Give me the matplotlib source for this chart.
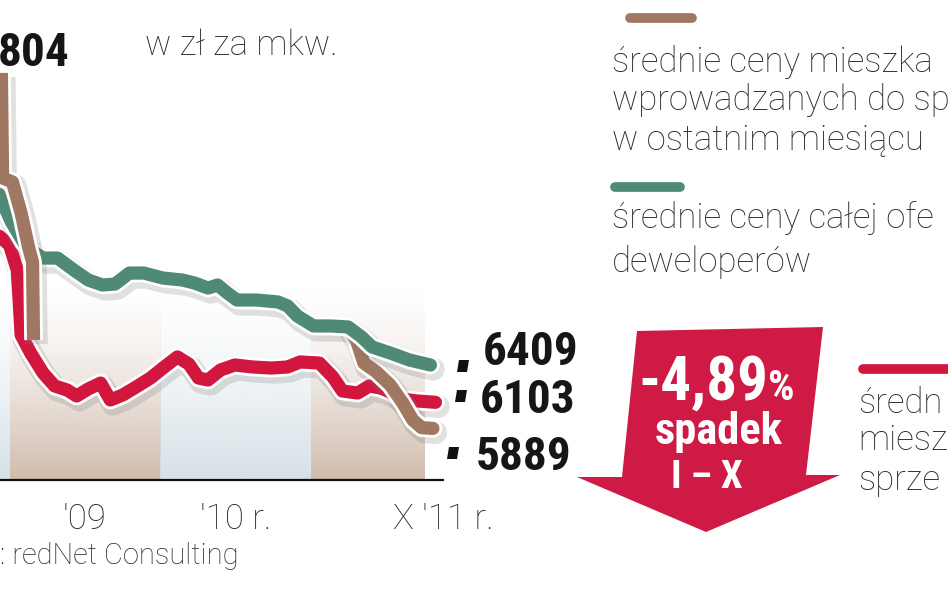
import numpy as np
import matplotlib
matplotlib.use('Agg')
import matplotlib.pyplot as plt
import matplotlib.patheffects as pe
from matplotlib import font_manager
from matplotlib.patches import Polygon
from matplotlib.lines import Line2D

# miesiace liczone od I 2009 (0 = styczen '09), ceny w zl za mkw.
# nowe mieszkania wprowadzane do sprzedazy (brak danych w srodku okresu)
m_nowe_1 = [-0.65, -0.55, 0.23, 0.92, 1.53, 1.83, 1.91]
c_nowe_1 = [8804, 7942, 7910, 7655, 7368, 7254, 6614]
m_nowe_2 = [26.9, 27.6, 28.2, 29.2, 30.3, 31.3, 32.1, 32.8, 33.7]
c_nowe_2 = [6721, 6614, 6425, 6352, 6245, 6097, 5958, 5895, 5889]

# cala oferta deweloperow
m_oferta = [-1.0, -0.76, 0.15, 1.15, 1.91, 2.67, 3.82, 5.11, 6.26, 7.40, 8.40,
            9.54, 10.69, 12.21, 13.74, 14.73, 15.80, 16.56, 17.33, 18.09, 19.62,
            21.37, 22.14, 22.90, 24.20, 25.57, 26.95, 28.02, 28.85, 30.31, 31.83, 33.5]
c_oferta = [7850, 7787, 7582, 7409, 7336, 7286, 7286, 7188, 7106, 7065, 7073,
            7163, 7163, 7122, 7106, 7081, 7040, 7065, 7000, 6942, 6942,
            6926, 6893, 6811, 6729, 6729, 6721, 6639, 6557, 6507, 6450, 6409]

# mieszkania sprzedane
m_sprzed = [-1.0, -0.76, 0.0, 0.61, 0.76, 0.92, 1.68, 2.67, 3.59, 4.58, 5.34,
            6.26, 7.25, 8.02, 9.01, 10.08, 11.22, 12.21, 13.36, 14.27, 15.04,
            15.80, 16.79, 17.94, 19.31, 20.84, 22.14, 23.13, 24.66, 25.73, 26.49,
            27.71, 28.63, 29.54, 30.31, 31.15, 32.44, 33.9]
c_sprzed = [7480, 7459, 7393, 7188, 6942, 6655, 6507, 6343, 6237, 6204, 6155,
            6212, 6261, 6122, 6163, 6229, 6302, 6384, 6475, 6417, 6302,
            6286, 6368, 6409, 6393, 6384, 6393, 6434, 6425, 6311, 6196,
            6179, 6237, 6220, 6188, 6130, 6114, 6103]

# granice lat i etykiety osi
lata_granice = [-0.76, 0, 12, 24, 33.05]
tick_poz = [6, 18, 34.5]
tick_lab = ["'09", "'10 r.", "X '11 r."]

BRAZ = '#a07862'
ZIEL = '#4e8a76'
CZER = '#d2173f'
TXT = '#2b2b2b'

names = {f.name for f in font_manager.fontManager.ttflist}
waski = next((n for n in ['Liberation Sans Narrow', 'DejaVu Sans Condensed',
                          'Roboto Condensed', 'Open Sans Condensed'] if n in names),
             'DejaVu Sans')
lekki = next((n for n in ['Roboto', 'Open Sans', 'DejaVu Sans'] if n in names))
cienki = dict(fontfamily=lekki, fontweight='light', color=TXT)

W, H = 948, 593
fig = plt.figure(figsize=(W / 100, H / 100), dpi=100)


def px(x, y):
    return x / W, 1 - y / H


ax = fig.add_axes([0, 1 - 480 / H, 443 / W, 420 / H])
ax.set_xlim(lata_granice[0], lata_granice[-1])
ax.set_ylim(5466, 8910)

# tlo - pasy lat z gradientem
kolory_pasow = ['#d3dfe5', '#cdb8a8', '#d3dfe5', '#cdb8a8']
for i, kol in enumerate(kolory_pasow):
    rgb = matplotlib.colors.to_rgb(kol)
    t = np.linspace(0, 1, 200)
    img = np.zeros((200, 1, 4))
    img[:, 0, :3] = rgb
    img[:, 0, 3] = 0.95 * (1 - t) ** 1.4
    ax.imshow(img, extent=(lata_granice[i], lata_granice[i + 1], 5466, 7050),
              origin='lower', aspect='auto', interpolation='bilinear', zorder=0)

lw = 9.5
efekty = [pe.SimpleLineShadow(offset=(2, -3), shadow_color='#777777', alpha=0.22,
                              linewidth=lw + 7),
          pe.Stroke(linewidth=lw + 4, foreground='white'),
          pe.Normal()]

ax.plot(m_sprzed, c_sprzed, color=CZER, lw=lw, solid_capstyle='round',
        solid_joinstyle='round', clip_on=False, zorder=3, path_effects=efekty)
ax.plot(m_nowe_2, c_nowe_2, color=BRAZ, lw=lw, solid_capstyle='round',
        solid_joinstyle='round', clip_on=False, zorder=3.5, path_effects=efekty)
ax.plot(m_oferta, c_oferta, color=ZIEL, lw=lw, solid_capstyle='round',
        solid_joinstyle='round', clip_on=False, zorder=4, path_effects=efekty)
ax.plot(m_nowe_1, c_nowe_1, color=BRAZ, lw=lw, solid_capstyle='butt',
        solid_joinstyle='round', clip_on=False, zorder=5, path_effects=efekty)

for s in ['top', 'left', 'right']:
    ax.spines[s].set_visible(False)
ax.spines['bottom'].set_color('#111111')
ax.spines['bottom'].set_linewidth(1.6)
ax.spines['bottom'].set_zorder(6)
ax.set_yticks([])
ax.set_xticks(tick_poz)
ax.set_xticklabels(tick_lab, fontsize=25, **cienki)
ax.tick_params(axis='x', length=0, pad=16)
ax.set_facecolor('none')

bold = dict(fontfamily=waski, fontweight='bold', fontstretch='condensed')

# wartosci z kwadracikami
fig.text(*px(70, 53), '804', ha='right', va='center', fontsize=34,
         color='#161616', **bold)
for (x0, y0), txt, (tx, ty) in [((457, 360), '6409', (483, 352)),
                                ((455, 390), '6103', (480, 400)),
                                ((447, 447), '5889', (476, 457))]:
    kw = [px(x0 + 2, y0), px(x0 + 12, y0), px(x0 + 10, y0 + 12), px(x0, y0 + 12)]
    fig.add_artist(Polygon(kw, closed=True, transform=fig.transFigure,
                           facecolor='#111111', edgecolor='none'))
    fig.text(*px(tx, ty), txt, ha='left', va='center', fontsize=34,
             color='#161616', **bold)

fig.text(*px(145, 45), 'w zł za mkw.', ha='left', va='center', fontsize=25,
         **cienki)

# legenda
def pasek(x0, x1, y, kol):
    fig.add_artist(Line2D([x0 / W, x1 / W], [1 - y / H, 1 - y / H], lw=7,
                          color=kol, solid_capstyle='round',
                          transform=fig.transFigure))


pasek(630, 692, 18, BRAZ)
pasek(615, 680, 187, ZIEL)
pasek(863, 960, 369, CZER)

leg = [(612, 62, 'średnie ceny mieszka'),
       (612, 100, 'wprowadzanych do sp'),
       (612, 140, 'w ostatnim miesiącu'),
       (612, 218, 'średnie ceny całej ofe'),
       (612, 262, 'deweloperów'),
       (858, 403, 'średn'),
       (858, 440, 'miesz'),
       (858, 480, 'sprze')]
for x, y, t in leg:
    fig.text(*px(x, y), t, ha='left', va='center', fontsize=25, **cienki)

# strzalka spadku
strz = [px(637, 331), px(823, 327), px(806, 475), px(840, 475), px(706, 532),
        px(577, 477), px(622, 477)]
fig.add_artist(Polygon(strz, closed=True, transform=fig.transFigure,
                       facecolor='#cf1a45', edgecolor='none'))
fig.text(*px(638, 383), '-4,89', ha='left', va='center', fontsize=44,
         color='white', **bold)
fig.text(*px(768, 388), '%', ha='left', va='center', fontsize=30,
         color='white', **bold)
fig.text(*px(719, 432), 'spadek', ha='center', va='center', fontsize=32,
         color='white', **bold)
fig.text(*px(707, 478), 'I – X', ha='center', va='center', fontsize=28,
         color='white', **bold)

fig.text(*px(0, 556), ': redNet Consulting', ha='left', va='center',
         fontsize=21, **cienki)

fig.savefig('out.png', dpi=100)
